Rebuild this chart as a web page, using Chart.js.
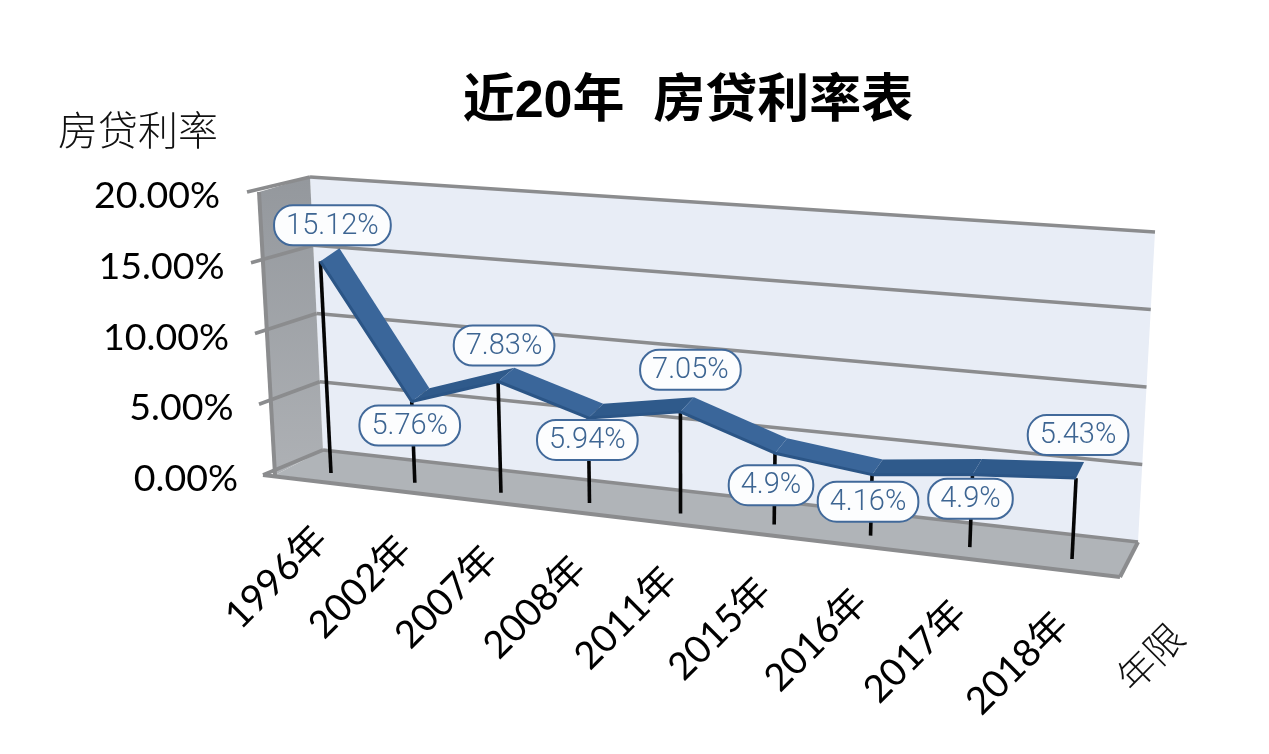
<!DOCTYPE html>
<html><head><meta charset="utf-8">
<style>html,body{margin:0;padding:0;background:#fff}#w{width:1269px;height:754px}</style>
<script src="https://cdn.jsdelivr.net/npm/chart.js@4"></script></head>
<body><div id="w"><canvas id="c" width="1269" height="754"></canvas></div>
<script>
const categories = ['1996年','2002年','2007年','2008年','2011年','2015年','2016年','2017年','2018年'];
const rates = [15.12, 5.76, 7.83, 5.94, 7.05, 4.9, 4.16, 4.9, 5.43];
const yTickStep = 5, yMax = 20;
const titleText = '近20年  房贷利率表';
const yAxisTitle = '房贷利率';
const xAxisTitle = '年限';
// placement of each value callout relative to its point
const calloutDx = [12, -2, 6, -1, 10, -4, -4, -2, 2];
const calloutDy = [-36, 24, -36, 22, -42, 32, 27, 24, -43];

const LAT = '"Lato","Noto Sans CJK SC",sans-serif';
const CJK = '"Noto Sans CJK SC",sans-serif';
const R = 1.12;                                  // perspective foreshortening along the x axis
const warp = u => u / (u + R * (1 - u));
const bil = (q, u, t) => {
  const a = [q.l0[0] + (q.r0[0] - q.l0[0]) * u, q.l0[1] + (q.r0[1] - q.l0[1]) * u];
  const b = [q.l1[0] + (q.r1[0] - q.l1[0]) * u, q.l1[1] + (q.r1[1] - q.l1[1]) * u];
  return [a[0] + (b[0] - a[0]) * t, a[1] + (b[1] - a[1]) * t];
};
const seriesPlane = {l0:[331,473], r0:[1072,559], l1:[317,193], r1:[1087,261]};
const backWall   = {l0:[323,450], r0:[1138,542], l1:[310,177], r1:[1155,232]};
const frontEdge  = {b:[275,475], t:[259,192]};
const stubEdge   = {b:[263,475], t:[247,192]};
const floorFront = [1120,577];
const lerp2 = (a, b, t) => [a[0] + (b[0] - a[0]) * t, a[1] + (b[1] - a[1]) * t];
const GRAY = '#8b8c8e';

function uOf(chart, i){ const s = chart.scales.x, a = chart.chartArea; return (s.getPixelForValue(i) - a.left) / (a.right - a.left); }
function tOf(chart, v){ const s = chart.scales.y, a = chart.chartArea; return (a.bottom - s.getPixelForValue(v)) / (a.bottom - a.top); }
function project(chart, i, v){ return bil(seriesPlane, warp(uOf(chart, i)), tOf(chart, v)); }
function poly(ctx, pts, fill){ ctx.beginPath(); pts.forEach((p, k) => k ? ctx.lineTo(p[0], p[1]) : ctx.moveTo(p[0], p[1])); ctx.closePath(); ctx.fillStyle = fill; ctx.fill(); }
function seg(ctx, a, b, w, c){ ctx.beginPath(); ctx.moveTo(a[0], a[1]); ctx.lineTo(b[0], b[1]); ctx.lineWidth = w; ctx.strokeStyle = c; ctx.lineCap = 'butt'; ctx.stroke(); }
const backOf = (u, p) => [p[0] + 19 - 11 * u, p[1] - 13 - 3 * u];

const perspective = {
  id: 'perspective',
  afterDatasetsUpdate(chart){
    const meta = chart.getDatasetMeta(0);
    meta.data.forEach((pt, i) => { const p = project(chart, i, rates[i]); pt.x = p[0]; pt.y = p[1]; });
  },
  beforeDraw(chart){
    const ctx = chart.ctx, ys = chart.scales.y, xs = chart.scales.x;
    // tick labels follow the slanted axes
    ys.getLabelItems().forEach((it, k) => {
      const t = tOf(chart, ys.ticks[k].value);
      it.options.translation = [238 - 18 * t, 479 - 283 * t];
      it.options.textAlign = 'right'; it.options.textBaseline = 'middle'; it.textOffset = 0;
    });
    xs.getLabelItems().forEach((it, k) => {
      const b = project(chart, k, 0);
      it.options.translation = [b[0] - 10, b[1] + 60];
      it.options.textAlign = 'right'; it.options.textBaseline = 'middle'; it.textOffset = 0;
    });
    ctx.save();
    // walls
    poly(ctx, [backWall.l0, backWall.r0, backWall.r1, backWall.l1], '#e8edf6');
    const g = ctx.createLinearGradient(0, 180, 0, 480);
    g.addColorStop(0, '#94989d'); g.addColorStop(1, '#aeb1b5');
    poly(ctx, [frontEdge.b, backWall.l0, backWall.l1, frontEdge.t], g);
    poly(ctx, [frontEdge.b, backWall.l0, backWall.r0, floorFront], '#b0b4b8');
    // grid lines from the y scale's ticks
    ys.ticks.forEach(tk => {
      const t = tOf(chart, tk.value);
      const bk = lerp2(backWall.l0, backWall.l1, t), br = lerp2(backWall.r0, backWall.r1, t);
      const st = lerp2(stubEdge.b, stubEdge.t, t);
      seg(ctx, st, bk, 3.6, GRAY);
      seg(ctx, bk, br, 3.6, GRAY);
    });
    seg(ctx, frontEdge.b, frontEdge.t, 4, GRAY);
    seg(ctx, stubEdge.b, floorFront, 4, GRAY);
    seg(ctx, backWall.r0, floorFront, 4, GRAY);
    ctx.restore();
  },
  beforeDatasetsDraw(chart){
    const ctx = chart.ctx, pts = chart.getDatasetMeta(0).data;
    ctx.save();
    // drop lines, then the ribbon
    pts.forEach((pt, i) => seg(ctx, [pt.x, pt.y], project(chart, i, 0), 3.6, '#050505'));
    for (let i = 0; i < pts.length - 1; i++) {
      const a = [pts[i].x, pts[i].y], b = [pts[i+1].x, pts[i+1].y];
      const ua = uOf(chart, i), ub = uOf(chart, i + 1);
      poly(ctx, [a, b, backOf(ub, b), backOf(ua, a)], rates[i+1] < rates[i] ? '#3a669a' : '#2f5a8b');
    }
    ctx.restore();
  },
  afterDatasetsDraw(chart){
    const ctx = chart.ctx, pts = chart.getDatasetMeta(0).data;
    ctx.save();
    ctx.font = '300 29px Roboto,sans-serif';
    ctx.textAlign = 'center'; ctx.textBaseline = 'middle';
    pts.forEach((pt, i) => {
      const txt = rates[i] + '%', w = ctx.measureText(txt).width + 24, h = 40;
      const cx = pt.x + calloutDx[i], cy = pt.y + calloutDy[i];
      ctx.beginPath(); ctx.roundRect(cx - w / 2, cy - h / 2, w, h, 19);
      ctx.fillStyle = '#fcfdfe'; ctx.fill();
      ctx.lineWidth = 2; ctx.strokeStyle = '#41699a'; ctx.stroke();
      ctx.fillStyle = '#3d6592'; ctx.fillText(txt, cx, cy + 1);
    });
    // axis names
    ctx.fillStyle = '#111';
    ctx.font = '300 40px ' + CJK;
    ctx.fillText(yAxisTitle, 138, 130);
    ctx.translate(1150, 657); ctx.rotate(-Math.PI / 4);
    ctx.font = '300 38px ' + CJK;
    ctx.fillText(xAxisTitle, 0, 0);
    ctx.restore();
  }
};

new Chart(document.getElementById('c'), {
  type: 'line',
  data: { labels: categories, datasets: [{ data: rates, borderColor: '#2b5586', borderWidth: 3, pointRadius: 0, tension: 0, clip: false, borderJoinStyle: 'bevel', fill: false }] },
  plugins: [perspective],
  options: {
    responsive: false, animation: false, events: [],
    layout: { padding: { left: 0, right: 224, top: 0, bottom: 0 } },
    plugins: {
      legend: { display: false }, tooltip: { enabled: false },
      title: { display: true, text: titleText, color: '#000', fullSize: false,
        font: { family: '"Liberation Sans",' + CJK, size: 52, weight: 'bold' }, padding: { top: 71, bottom: 10 } }
    },
    scales: {
      x: { type: 'category', offset: false, grid: { display: false }, border: { display: false },
        afterFit(s){ s.height = 320; },
        ticks: { autoSkip: false, minRotation: 45, maxRotation: 45, color: '#000', font: { family: LAT, size: 38 } } },
      y: { min: 0, max: yMax, grid: { display: false }, border: { display: false },
        afterFit(s){ s.width = 331; },
        ticks: { stepSize: yTickStep, color: '#000', font: { family: LAT, size: 37.5 }, callback: v => v.toFixed(2) + '%' } }
    }
  }
});
</script></body></html>
